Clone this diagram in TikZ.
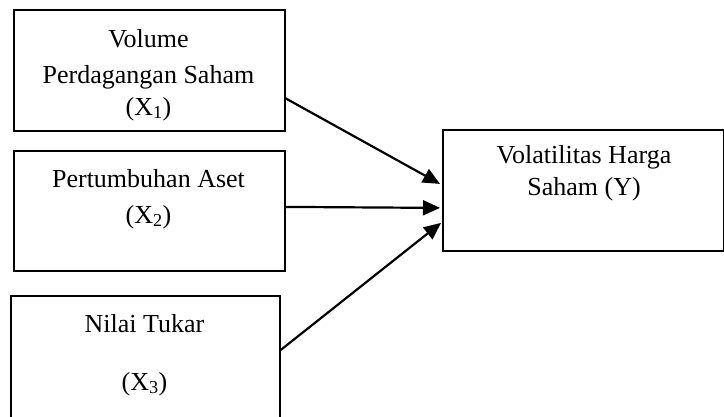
\documentclass[tikz,border=0pt]{standalone}
\usepackage{fontspec}
\setmainfont{Liberation Serif}
\usetikzlibrary{arrows.meta}
\begin{document}
\begin{tikzpicture}[x=1pt,y=1pt,
  box/.style={draw=black,line width=1.8pt,rectangle,anchor=north west,inner sep=0pt},
  txt/.style={anchor=base,inner sep=0pt,font=\fontsize{26}{30}\selectfont},
  conn/.style={line width=2.2pt,-{Triangle[length=17pt,width=15pt]}}]
\useasboundingbox (0,0) rectangle (724,-416);
\node[box,minimum width=271pt,minimum height=121pt] (b1) at (13,-9) {};
\node[box,minimum width=271pt,minimum height=120pt] (b2) at (13,-150) {};
\node[box,minimum width=269pt,minimum height=125pt] (b3) at (10,-295) {};
\node[box,minimum width=281pt,minimum height=121pt] (y) at (442,-129) {};
\node[txt] (t1a) at (148.5,-47) {Volume};
\node[txt] (t1b) at (148.5,-83) {Perdagangan Saham};
\node[txt] (t1c) at (148.5,-115) {(X\textsubscript{1})};
\node[txt] (t2a) at (148.5,-187) {Pertumbuhan Aset};
\node[txt] (t2b) at (148.5,-223) {(X\textsubscript{2})};
\node[txt] (t3a) at (144.5,-332) {Nilai Tukar};
\node[txt] (t3b) at (144.5,-390) {(X\textsubscript{3})};
\node[txt] (tya) at (584,-163) {Volatilitas Harga};
\node[txt] (tyb) at (584,-195) {Saham (Y)};
\draw[conn] ([xshift=-1pt,yshift=-27.5pt]b1.east) -- ([xshift=-2pt,yshift=6.5pt]y.west);
\draw[conn] ([yshift=4pt]b2.east) -- ([xshift=-2pt,yshift=-17.5pt]y.west);
\draw[conn] ([yshift=8.5pt]b3.east) -- ([xshift=-1pt,yshift=-32.5pt]y.west);
\end{tikzpicture}
\end{document}
